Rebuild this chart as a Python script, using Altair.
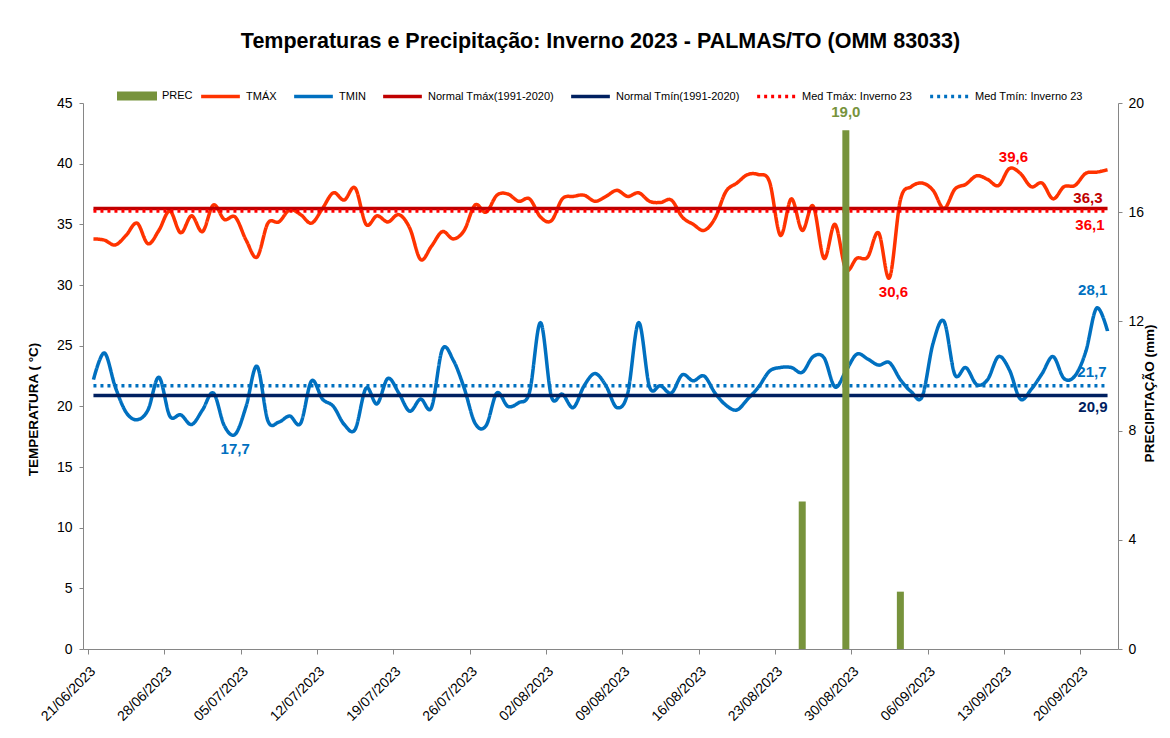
import altair as alt
import pandas as pd

# ---------------- data ----------------
start_date = "2023-06-21"
tmax = [33.8, 33.7, 33.3, 34.1, 35.1, 33.4, 34.5, 36.1, 34.3, 35.7,
        34.4, 36.6, 35.4, 35.6, 33.7, 32.3, 35.1, 35.2, 36.2, 35.8,
        35.1, 36.3, 37.6, 37.0, 38.0, 35.0, 35.7, 35.2, 35.8, 34.7,
        32.1, 33.2, 34.4, 33.8, 34.5, 36.6, 36.0, 37.4, 37.5, 36.9,
        37.1, 35.6, 35.3, 37.1, 37.3, 37.4, 36.9, 37.3, 37.8, 37.3,
        37.6, 36.9, 36.8, 37.0, 35.6, 35.0, 34.5, 35.5, 37.7, 38.4,
        39.1, 39.1, 38.5, 34.1, 37.1, 34.5, 36.5, 32.2, 35.0, 31.3,
        32.2, 32.3, 34.3, 30.6, 37.0, 38.1, 38.4, 37.8, 36.3, 37.9,
        38.3, 39.0, 38.7, 38.2, 39.6, 39.2, 38.1, 38.4, 37.1, 38.1,
        38.2, 39.2, 39.3, 39.5]
tmin = [22.2, 24.4, 21.6, 19.5, 18.9, 19.7, 22.4, 19.2, 19.3, 18.5,
        19.7, 21.1, 18.4, 17.7, 20.0, 23.3, 18.8, 18.7, 19.2, 18.6,
        22.1, 20.6, 20.0, 18.5, 18.1, 21.5, 20.2, 22.3, 21.1, 19.6,
        20.6, 19.9, 24.7, 23.8, 21.5, 18.6, 18.4, 21.1, 20.0, 20.3,
        21.2, 26.9, 20.8, 21.0, 19.9, 21.7, 22.7, 21.7, 19.9, 21.1,
        26.9, 21.6, 21.7, 21.1, 22.6, 22.1, 22.5, 21.1, 20.1, 19.7,
        20.6, 21.6, 22.9, 23.2, 23.2, 22.8, 24.1, 24.0, 21.6, 22.9,
        24.3, 23.9, 23.4, 23.6, 22.2, 21.2, 20.8, 25.2, 27.0, 22.6,
        23.2, 21.8, 22.2, 24.1, 23.0, 20.6, 21.4, 22.7, 24.1, 22.3,
        22.5, 24.5, 28.1, 26.2]
prec_dates = ["2023-08-25", "2023-08-29", "2023-09-03"]
prec_values = [5.4, 19.0, 2.1]
normal_tmax = 36.3
normal_tmin = 20.9
med_tmax = 36.1
med_tmin = 21.7
tick_dates = ["2023-06-21", "2023-06-28", "2023-07-05", "2023-07-12", "2023-07-19",
              "2023-07-26", "2023-08-02", "2023-08-09", "2023-08-16", "2023-08-23",
              "2023-08-30", "2023-09-06", "2023-09-13", "2023-09-20"]
series_names = ["TMÁX", "TMIN", "Normal Tmáx(1991-2020)", "Normal Tmín(1991-2020)",
                "Med Tmáx: Inverno 23", "Med Tmín: Inverno 23"]
series_colors = ["#FF3300", "#0070C0", "#C00000", "#002060", "#FF0000", "#0070C0"]
series_dash = [[1, 0], [1, 0], [1, 0], [1, 0], [3, 4], [3, 4]]
prec_name = "PREC"
prec_color = "#77933C"

# ---------------- tables ----------------
day_list = list(pd.date_range(start_date, periods=len(tmax), freq="D").strftime("%Y-%m-%d"))
end_date = (pd.Timestamp(start_date) + pd.Timedelta(days=len(tmax))).strftime("%Y-%m-%d")


def mid(d):
    # Excel date axis puts each day's point in the middle of its day band
    return d + "T12:00:00Z"


dates = [mid(d) for d in day_list]
first, last = dates[0], dates[-1]

rows = []
for d, v in zip(dates, tmax):
    rows.append({"date": d, "T": v, "series": series_names[0]})
for d, v in zip(dates, tmin):
    rows.append({"date": d, "T": v, "series": series_names[1]})
for name, v in zip(series_names[2:], [normal_tmax, normal_tmin, med_tmax, med_tmin]):
    rows.append({"date": first, "T": v, "series": name})
    rows.append({"date": last, "T": v, "series": name})
lines_df = pd.DataFrame(rows)

prec_df = pd.DataFrame({"date": [mid(d) for d in prec_dates], "P": prec_values, "s": prec_name})


def fmt(v):
    return f"{v:.1f}".replace(".", ",")


imax = max(range(len(tmax)), key=lambda i: tmax[i])
imin = min(range(len(tmax)), key=lambda i: tmax[i])
jmin = min(range(len(tmin)), key=lambda i: tmin[i])
jmax = max(range(len(tmin)), key=lambda i: tmin[i])
lab_df = pd.DataFrame([
    {"key": "tmax_max", "date": dates[imax], "T": tmax[imax], "text": fmt(tmax[imax]), "c": "#FF0000"},
    {"key": "tmax_min", "date": dates[imin], "T": tmax[imin], "text": fmt(tmax[imin]), "c": "#FF0000"},
    {"key": "tmin_min", "date": dates[jmin], "T": tmin[jmin], "text": fmt(tmin[jmin]), "c": "#0070C0"},
    {"key": "tmin_max", "date": dates[jmax], "T": tmin[jmax], "text": fmt(tmin[jmax]), "c": "#0070C0"},
    {"key": "n_tmax", "date": last, "T": normal_tmax, "text": fmt(normal_tmax), "c": "#C00000"},
    {"key": "m_tmax", "date": last, "T": med_tmax, "text": fmt(med_tmax), "c": "#FF0000"},
    {"key": "m_tmin", "date": last, "T": med_tmin, "text": fmt(med_tmin), "c": "#0070C0"},
    {"key": "n_tmin", "date": last, "T": normal_tmin, "text": fmt(normal_tmin), "c": "#002060"},
])
# label placement styles: align, dx, dy
label_style = {
    "tmax_max": ("center", 4, -12),
    "tmax_min": ("center", 4, 14),
    "tmin_min": ("center", 0, 15),
    "tmin_max": ("center", -4, -18),
    "n_tmax": ("right", -5, -11),
    "m_tmax": ("right", -3, 14),
    "m_tmin": ("right", -1, -14),
    "n_tmin": ("right", 0, 12),
}
pmax = max(range(len(prec_values)), key=lambda i: prec_values[i])
plab_df = pd.DataFrame([{"date": mid(prec_dates[pmax]), "P": prec_values[pmax],
                         "text": fmt(prec_values[pmax])}])

# ---------------- encodings ----------------
FONT = "Liberation Sans"


def dt(s):
    y, m, d = (int(p) for p in s[:10].split("-"))
    return alt.DateTime(year=y, month=m, date=d, utc=True)


xenc = alt.X(
    "date:T",
    title=None,
    scale=alt.Scale(type="utc", domain=[dt(start_date), dt(end_date)]),
    axis=alt.Axis(values=[dt(s) for s in tick_dates], format="%d/%m/%Y",
                  labelAngle=-45, labelAlign="right", labelBaseline="top",
                  labelFontSize=14, labelPadding=10, labelOffset=0, tickSize=5, grid=False,
                  labelOverlap=False),
)
yT = alt.Y(
    "T:Q",
    scale=alt.Scale(domain=[0, 45], nice=False),
    axis=alt.Axis(orient="left", values=list(range(0, 46, 5)), title="TEMPERATURA ( °C)",
                  titleFontSize=13.5, titleFontWeight="bold", titlePadding=16, titleY=306,
                  labelFontSize=14, labelPadding=7, tickSize=4, grid=False),
)
yP = alt.Y(
    "P:Q",
    scale=alt.Scale(domain=[0, 20], nice=False),
    axis=alt.Axis(orient="right", values=list(range(0, 21, 4)), title="PRECIPITAÇÃO (mm)",
                  titleFontSize=13.5, titleFontWeight="bold", titleAngle=270, titlePadding=13,
                  titleY=290, labelFontSize=14, labelPadding=6, tickSize=4, grid=False),
)

line_legend = alt.Legend(title=None, orient="none", legendX=116, legendY=-28,
                         direction="horizontal", columns=6, symbolType="stroke",
                         symbolSize=1500, symbolStrokeWidth=3.5, labelFontSize=11,
                         labelFont=FONT, columnPadding=10, labelOffset=4, gridAlign="none")

lines = alt.Chart(lines_df).mark_line(interpolate="cardinal", strokeWidth=3.5).encode(
    x=xenc,
    y=yT,
    stroke=alt.Stroke("series:N", scale=alt.Scale(domain=series_names, range=series_colors),
                      legend=line_legend, sort=series_names),
    strokeDash=alt.StrokeDash("series:N", scale=alt.Scale(domain=series_names, range=series_dash),
                              legend=line_legend, sort=series_names),
    detail="series:N",
)


def text_layer(key):
    align, dx, dy = label_style[key]
    return alt.Chart(lab_df).transform_filter(alt.datum.key == key).mark_text(
        align=align, baseline="middle", dx=dx, dy=dy, fontSize=15,
        fontWeight="bold", font=FONT,
    ).encode(x=xenc, y=yT, text="text:N", color=alt.Color("c:N", scale=None))


temp_layer = alt.layer(lines, *[text_layer(k) for k in lab_df["key"]])

bars = alt.Chart(prec_df).mark_bar(size=7).encode(
    x=xenc,
    y=yP,
    fill=alt.Fill("s:N", scale=alt.Scale(domain=[prec_name], range=[prec_color]),
                  legend=alt.Legend(title=None, orient="none", legendX=33, legendY=-28,
                                    symbolType="M-1,-0.22H1V0.22H-1Z", symbolSize=1600,
                                    labelFontSize=11, labelFont=FONT, labelOffset=4)),
)
bar_label = alt.Chart(plab_df).mark_text(
    baseline="middle", dy=-18, fontSize=15, fontWeight="bold", font=FONT, color=prec_color
).encode(x=xenc, y=yP, text="text:N")

prec_layer = alt.layer(bars, bar_label)

chart = alt.layer(temp_layer, prec_layer).resolve_scale(
    y="independent", fill="independent"
).properties(
    width=1035,
    height=546,
    padding={"left": 75, "top": 95, "right": 44, "bottom": 77},
    autosize=alt.AutoSizeParams(type="none"),
    title=alt.TitleParams(
        "Temperaturas e Precipitação: Inverno 2023 - PALMAS/TO (OMM 83033)",
        fontSize=21.5, fontWeight="bold", font=FONT, anchor="middle", offset=23,
        color="black",
    ),
).configure_view(stroke=None).configure_axis(
    labelFont=FONT, titleFont=FONT, labelColor="black", titleColor="black",
    domainColor="#868686", tickColor="#868686", domainWidth=1,
).configure_legend(labelColor="black")

chart.save("out.html", embed_options={"renderer": "svg", "actions": False})
